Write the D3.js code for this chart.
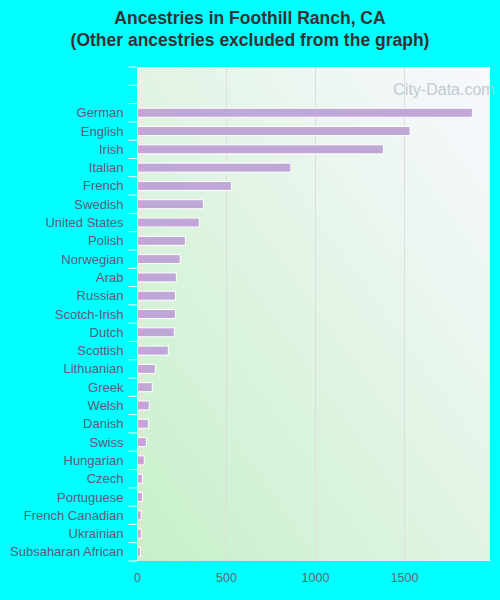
<!DOCTYPE html>
<html><head><meta charset="utf-8">
<script src="https://cdn.jsdelivr.net/npm/d3@7"></script>
<style>body{margin:0;background:#00ffff;}svg{display:block;font-family:"Liberation Sans",Arial,sans-serif;}</style>
</head><body><svg id="c" width="500" height="600"></svg>
<script>
const categories = ["German","English","Irish","Italian","French","Swedish","United States","Polish","Norwegian","Arab","Russian","Scotch-Irish","Dutch","Scottish","Lithuanian","Greek","Welsh","Danish","Swiss","Hungarian","Czech","Portuguese","French Canadian","Ukrainian","Subsaharan African"];
const values = [1881,1531,1381,862,527,370,347,269,240,218,213,213,207,173,100,83,66,61,50,38,27,27,21,21,16];
const xTicks = [0,500,1000,1500];
const title = ["Ancestries in Foothill Ranch, CA","(Other ancestries excluded from the graph)"];

const svg = d3.select("#c");
const m = {l:137.5, r:490, t:67, b:561};
const x = d3.scaleLinear().domain([0,1980]).range([m.l,m.r]);
const slots = ["_e1","_e2"].concat(categories);
const y = d3.scaleBand().domain(slots).range([m.t,m.b]);

const defs = svg.append("defs");
const g = defs.append("linearGradient").attr("id","bg").attr("x1","0").attr("y1","1").attr("x2","1").attr("y2","0");
g.append("stop").attr("offset","0").attr("stop-color","#c6f0c8");
g.append("stop").attr("offset","0.6").attr("stop-color","#e6f5ea");
g.append("stop").attr("offset","1").attr("stop-color","#f8f8ff");
svg.append("rect").attr("x",m.l).attr("y",m.t).attr("width",m.r-m.l).attr("height",m.b-m.t).attr("fill","url(#bg)");

svg.append("g").selectAll("line").data(xTicks.slice(1)).join("line")
  .attr("x1",d=>x(d)).attr("x2",d=>x(d)).attr("y1",m.t).attr("y2",m.b)
  .attr("stroke","#dddddd").attr("stroke-width",1);

svg.append("text").attr("x",444).attr("y",95).attr("text-anchor","middle").attr("font-size",16).attr("fill","#b8c4cc").attr("opacity",0.85).text("City-Data.com");

svg.append("g").selectAll("rect").data(categories).join("rect")
  .attr("x",x(0)).attr("y",(d)=>y(d)+y.bandwidth()/2-4.5)
  .attr("width",(d,i)=>x(values[i])-x(0)).attr("height",9)
  .attr("fill","#bfa8d8").attr("stroke","#ffffff").attr("stroke-width",1);

const ya = svg.append("g");
ya.append("line").attr("x1",m.l).attr("x2",m.l).attr("y1",m.t).attr("y2",m.b).attr("stroke","#ffffff");
const bounds = slots.map(s=>y(s)).concat([m.b]);
ya.selectAll("line.t").data(bounds).join("line").attr("class","t")
  .attr("x1",m.l-9).attr("x2",m.l).attr("y1",d=>d).attr("y2",d=>d).attr("stroke","#ffffff");
ya.selectAll("text").data(categories).join("text")
  .attr("x",m.l-14).attr("y",d=>y(d)+y.bandwidth()/2).attr("dy","0.35em")
  .attr("text-anchor","end").attr("font-size",13).attr("fill","#5e5a78").text(d=>d);

svg.append("g").selectAll("text").data(xTicks).join("text")
  .attr("x",d=>x(d)).attr("y",582).attr("text-anchor","middle").attr("font-size",12.5).attr("fill","#5e6a70").text(d=>d);

svg.append("g").selectAll("text").data(title).join("text")
  .attr("x",250).attr("y",(d,i)=>24+i*22).attr("text-anchor","middle")
  .attr("font-size",17.5).attr("font-weight","bold").attr("fill","#333333").text(d=>d);
</script></body></html>
